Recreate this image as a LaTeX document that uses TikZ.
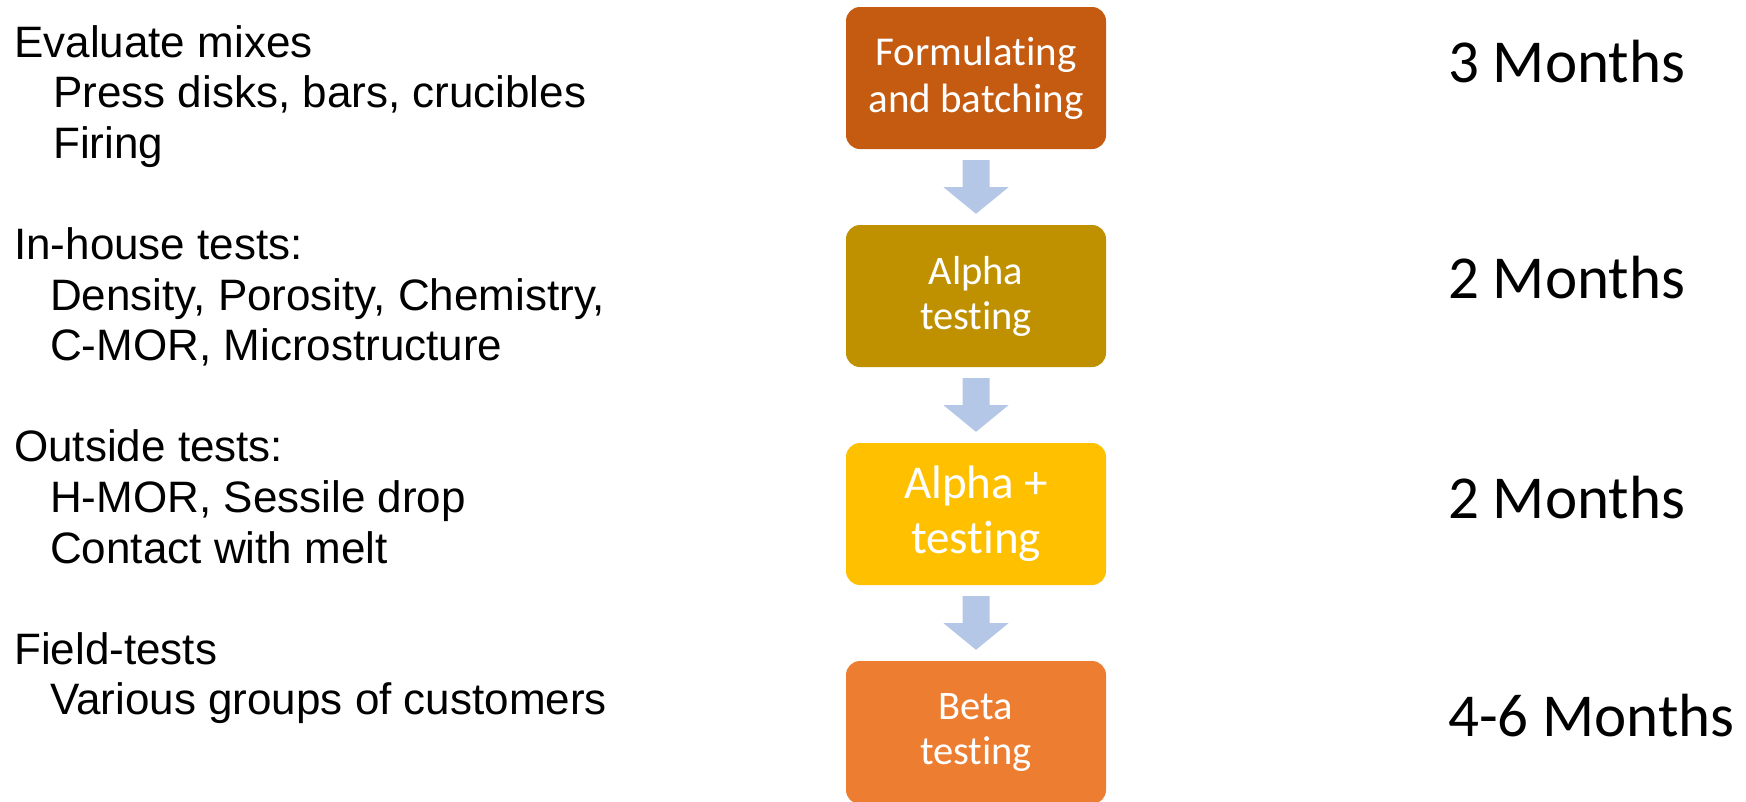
\documentclass[tikz,border=0pt]{standalone}
\usepackage{fontspec}
\setmainfont{Liberation Sans}
\newfontfamily\calib[Ligatures=NoCommon]{Carlito}
\usetikzlibrary{calc}
\definecolor{cA}{HTML}{C55A11}
\definecolor{cB}{HTML}{BF9000}
\definecolor{cC}{HTML}{FFC000}
\definecolor{cD}{HTML}{ED7D31}
\definecolor{arrowc}{HTML}{B4C7E7}
\begin{document}
\begin{tikzpicture}[x=1pt,y=-1pt,
  stage/.style={rounded corners=14pt, minimum width=260pt, minimum height=142pt, inner sep=0pt, text=white, align=center},
  bigstage/.style={stage, font=\calib\fontsize{41}{47}\selectfont},
  midstage/.style={stage, font=\calib\fontsize{40.5}{45}\selectfont},
  plusstage/.style={stage, font=\calib\fontsize{47}{55}\selectfont},
  lefthead/.style={anchor=base west, inner sep=0pt, font=\fontsize{44}{50.6}\selectfont},
  leftsub/.style={lefthead},
  months/.style={anchor=base west, inner sep=0pt, font=\calib\fontsize{61}{73}\selectfont},
  blockarrow/.style={fill=arrowc, draw=none}]
\useasboundingbox (0,0) rectangle (1746,801);
\clip (0,0) rectangle (1746,801);
\fill[white] (0,0) rectangle (1746,801);

% stage boxes
\node[bigstage, fill=cA] (b1) at (976,78) {Formulating\\and batching};
\node[midstage, fill=cB] (b2) at (976,296) {Alpha\\testing};
\node[plusstage, fill=cC] (b3) at (976,514) {Alpha +\\testing};
\node[midstage, fill=cD, minimum height=143pt] (b4) at (976,732.5) {Beta\\testing};

% block arrows
\foreach \a/\b in {b1/b2, b2/b3, b3/b4}{
  \fill[blockarrow] ($(\a.south)+(-13.5,11)$) -- ($(\a.south)+(13.5,11)$)
    -- ($(\a.south)+(13.5,38)$) -- ($(\a.south)+(32.5,38)$)
    -- ($(\b.north)+(0,-11)$)
    -- ($(\a.south)+(-32.5,38)$) -- ($(\a.south)+(-13.5,38)$) -- cycle;
}

% left text
\node[lefthead] (l1) at (14,57) {Evaluate mixes};
\node[leftsub] (l2) at (53,107.6) {Press disks, bars, crucibles};
\node[leftsub] (l3) at (53,158.2) {Firing};
\node[lefthead] (l4) at (14,259.4) {In-house tests:};
\node[leftsub] (l5) at (50,310) {Density, Porosity, Chemistry,};
\node[leftsub] (l6) at (50,360.6) {C-MOR, Microstructure};
\node[lefthead] (l7) at (14,461.8) {Outside tests:};
\node[leftsub] (l8) at (50,512.4) {H-MOR, Sessile drop};
\node[leftsub] (l9) at (50,563) {Contact with melt};
\node[lefthead] (l10) at (14,664.2) {Field-tests};
\node[leftsub] (l11) at (50,714.8) {Various groups of customers};

% durations
\node[months] (m1) at (1448,82) {3 Months};
\node[months] (m2) at (1448,298) {2 Months};
\node[months] (m3) at (1448,518) {2 Months};
\node[months] (m4) at (1448,736) {4-6 Months};
\end{tikzpicture}
\end{document}
